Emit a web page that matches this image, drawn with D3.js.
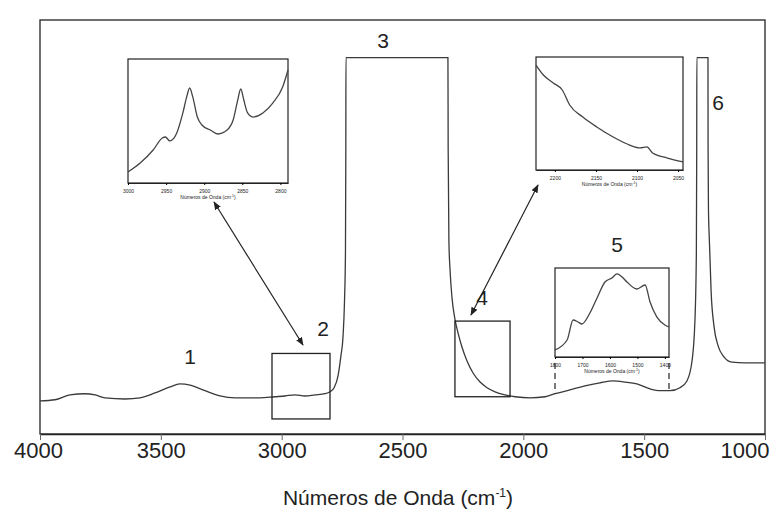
<!DOCTYPE html>
<html>
<head>
<meta charset="utf-8">
<script src="https://cdn.jsdelivr.net/npm/d3@7"></script>
<style>
  html, body { margin: 0; padding: 0; background: #fff; }
  svg { display: block; }
  text { font-family: "Liberation Sans", Arial, sans-serif; fill: #222; }
</style>
</head>
<body>
<svg id="chart" width="772" height="512"></svg>
<script>
// ---------- DATA ----------
// Main spectrum: wavenumber (cm-1) and relative absorbance (1.0 = saturated)
const mainWn = [4000,3938,3876,3814,3772,3731,3648,3586,3524,3462,3421,3379,3317,3255,3193,3090,3028,2986,2945,2903,2862,2821,2800,2783,2767,2755,2746,2740,2736,2734.5,2734,2600,2510,2400,2312,2311,2308,2303,2295,2283,2270,2254,2233,2208,2179,2150,2117,2076,2034,1972,1910,1869,1807,1745,1683,1629,1579,1530,1476,1434,1393,1352,1323,1302,1290,1284,1282.5,1282,1260,1236,1235.5,1234,1230,1223,1211,1194,1170,1137,1083,1041,1000];
const mainAbs = [0.088,0.091,0.104,0.107,0.104,0.096,0.093,0.096,0.109,0.125,0.133,0.130,0.115,0.101,0.096,0.096,0.099,0.101,0.104,0.101,0.104,0.107,0.112,0.123,0.154,0.207,0.260,0.353,0.483,0.756,1.0,1.0,1.0,1.0,1.0,0.756,0.513,0.433,0.361,0.305,0.268,0.231,0.194,0.162,0.138,0.123,0.112,0.104,0.099,0.096,0.099,0.107,0.117,0.128,0.136,0.141,0.138,0.133,0.120,0.115,0.115,0.123,0.141,0.194,0.300,0.483,0.756,1.0,1.0,1.0,0.756,0.600,0.511,0.379,0.286,0.234,0.205,0.191,0.189,0.189,0.189];
const mainTicks = [4000,3500,3000,2500,2000,1500,1000];
const bandLabels = ["1","2","3","4","5","6"];

// Inset 2 (C-H region)
const in2Wn  = [3000,2984,2967,2955,2951,2945,2936,2928,2923,2919,2915,2909,2903,2892,2882,2870,2862,2856,2852,2848,2843,2836,2823,2810,2797,2790];
const in2Abs = [0.089,0.161,0.266,0.363,0.371,0.339,0.403,0.565,0.694,0.766,0.694,0.532,0.468,0.427,0.395,0.427,0.508,0.669,0.758,0.669,0.565,0.532,0.565,0.645,0.774,0.911];
const in2Ticks = [3000,2950,2900,2850,2800];

// Inset 4
const in4Wn  = [2223,2214,2202,2191,2182,2166,2149,2129,2109,2096,2088,2081,2063,2044];
const in4Abs = [0.929,0.841,0.770,0.708,0.575,0.469,0.381,0.292,0.221,0.195,0.204,0.150,0.106,0.071];
const in4Ticks = [2200,2150,2100,2050];

// Inset 5
const in5Wn  = [1800,1756,1734,1716,1702,1673,1647,1618,1593,1574,1556,1538,1502,1472,1454,1429,1400,1385];
const in5Abs = [0.079,0.191,0.416,0.393,0.371,0.494,0.663,0.843,0.888,0.933,0.899,0.843,0.764,0.809,0.618,0.449,0.360,0.337];
const in5Ticks = [1800,1700,1600,1500,1400];

const xTitle = "Números de Onda (cm";
// ---------- LAYOUT ----------
const svg = d3.select("#chart");
const L = 40, R = 765, T = 20, B = 434;
const x = d3.scaleLinear().domain([4000, 1000]).range([L, R]);
const y = d3.scaleLinear().domain([0, 1.1]).range([B, T]);
const lineColor = "#3a3a3a";

// frame
svg.append("rect").attr("x", L).attr("y", T).attr("width", R - L).attr("height", B - T)
  .attr("fill", "none").attr("stroke", "#222").attr("stroke-width", 1.3);

// x axis
const xAxis = d3.axisBottom(x).tickValues(mainTicks).tickSize(6).tickSizeOuter(0).tickFormat(d3.format("d"));
const gx = svg.append("g").attr("transform", `translate(0,${B})`).call(xAxis);
gx.select(".domain").attr("stroke", "#222").attr("stroke-width", 1.3);
gx.selectAll(".tick line").attr("stroke", "#666");
gx.selectAll(".tick text").attr("font-size", 22).attr("dy", "0.7em").attr("fill", "#222")
  .style("font-family", "'Liberation Sans', Arial, sans-serif");
gx.selectAll(".tick text").filter(d => d === 1000).attr("text-anchor", "end").attr("dx", 4);
gx.selectAll(".tick text").filter(d => d === 4000).attr("dx", -2);

// x title
const tt = svg.append("text").attr("x", 398).attr("y", 505).attr("text-anchor", "middle")
  .attr("font-size", 21).text(xTitle);
tt.append("tspan").attr("font-size", 12).attr("dy", -8).text("-1");
tt.append("tspan").attr("dy", 8).text(")");

// main spectrum
const line = d3.line().x((d, i) => x(mainWn[i])).y(d => y(d)).curve(d3.curveMonotoneX);
svg.append("path").attr("d", line(mainAbs)).attr("fill", "none")
  .attr("stroke", lineColor).attr("stroke-width", 1.3);

// zoom boxes on the main spectrum
const boxes = [
  {wn: [3040, 2800], a: [0.04, 0.214]},
  {wn: [2283, 2055], a: [0.099, 0.30]}
];
boxes.forEach(b => {
  svg.append("rect").attr("x", x(b.wn[0])).attr("y", y(b.a[1]))
    .attr("width", x(b.wn[1]) - x(b.wn[0])).attr("height", y(b.a[0]) - y(b.a[1]))
    .attr("fill", "none").attr("stroke", "#222").attr("stroke-width", 1.3);
});

// band labels
const labelPos = [[190, 357], [323, 329], [383, 41], [482, 298], [617, 245], [718, 103]];
bandLabels.forEach((t, i) => {
  svg.append("text").attr("x", labelPos[i][0]).attr("y", labelPos[i][1]).attr("dy", "0.35em")
    .attr("text-anchor", "middle").attr("font-size", 21).text(t);
});

// arrows
const defs = svg.append("defs");
defs.append("marker").attr("id", "ah").attr("viewBox", "0 0 10 10").attr("refX", 9).attr("refY", 5)
  .attr("markerWidth", 7).attr("markerHeight", 7).attr("orient", "auto-start-reverse")
  .append("path").attr("d", "M0,1 L10,5 L0,9 z").attr("fill", "#222");
[[[214, 202], [303, 345]], [[471, 315], [538, 185]]].forEach(p => {
  svg.append("line").attr("x1", p[0][0]).attr("y1", p[0][1]).attr("x2", p[1][0]).attr("y2", p[1][1])
    .attr("stroke", "#222").attr("stroke-width", 1.2)
    .attr("marker-start", "url(#ah)").attr("marker-end", "url(#ah)");
});

// insets
function inset(opts) {
  const g = svg.append("g");
  const ix = d3.scaleLinear().domain(opts.domain).range([opts.x0, opts.x1]);
  const iy = d3.scaleLinear().domain([0, 1]).range([opts.y1, opts.y0]);
  g.append("rect").attr("x", opts.x0).attr("y", opts.y0).attr("width", opts.x1 - opts.x0)
    .attr("height", opts.y1 - opts.y0).attr("fill", "#fff").attr("stroke", "#222").attr("stroke-width", 1.2);
  const ax = d3.axisBottom(ix).tickValues(opts.ticks).tickSize(2).tickSizeOuter(0).tickFormat(d3.format("d"));
  const ga = g.append("g").attr("transform", `translate(0,${opts.y1})`).call(ax);
  ga.select(".domain").attr("stroke", "#222").attr("stroke-width", 1.2);
  ga.selectAll(".tick text").attr("font-size", 5).attr("dy", "0.9em").attr("fill", "#333");
  const st = g.append("text").attr("x", (opts.x0 + opts.x1) / 2).attr("y", opts.y1 + 16)
    .attr("text-anchor", "middle").attr("font-size", 5).text(xTitle);
  st.append("tspan").attr("font-size", 3.5).attr("dy", -2).text("-1");
  st.append("tspan").attr("dy", 2).text(")");
  const ln = d3.line().x((d, i) => ix(opts.wn[i])).y(d => iy(d)).curve(d3.curveMonotoneX);
  g.append("path").attr("d", ln(opts.abs)).attr("fill", "none").attr("stroke", "#444").attr("stroke-width", 1.3);
  return {ix, iy};
}
inset({x0: 128, x1: 288, y0: 59, y1: 183, domain: [3000, 2790], ticks: in2Ticks, wn: in2Wn, abs: in2Abs});
inset({x0: 536, x1: 683, y0: 57, y1: 170, domain: [2223, 2044], ticks: in4Ticks, wn: in4Wn, abs: in4Abs});
const i5 = {x0: 555, x1: 669, y0: 268, y1: 357, domain: [1800, 1385], ticks: in5Ticks, wn: in5Wn, abs: in5Abs};
inset(i5);

// dashed connectors from inset 5 down to the spectrum
const interp = wn => {
  for (let i = 0; i < mainWn.length - 1; i++) {
    if (wn <= mainWn[i] && wn >= mainWn[i + 1]) {
      const t = (mainWn[i] - wn) / (mainWn[i] - mainWn[i + 1]);
      return mainAbs[i] + t * (mainAbs[i + 1] - mainAbs[i]);
    }
  }
  return 0.1;
};
[i5.x0, i5.x1].forEach(px => {
  const wn = x.invert(px);
  svg.append("line").attr("x1", px).attr("x2", px).attr("y1", i5.y1 + 6).attr("y2", y(interp(wn)))
    .attr("stroke", "#222").attr("stroke-width", 1.2).attr("stroke-dasharray", "6,4");
});
</script>
</body>
</html>
